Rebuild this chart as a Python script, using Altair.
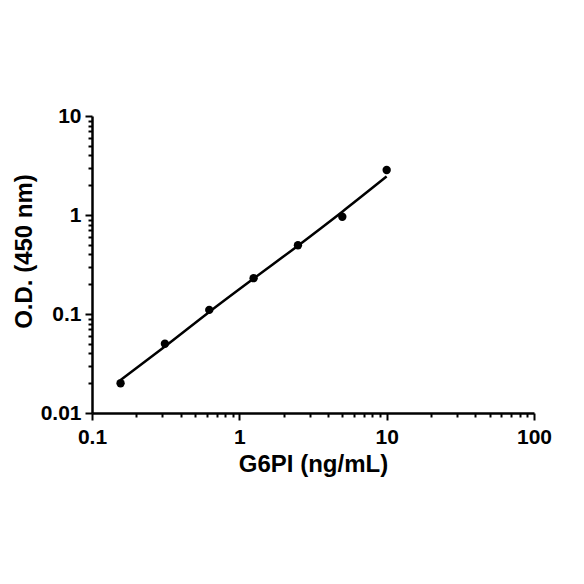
import altair as alt
import pandas as pd

# Measured standards
conc = [0.15625, 0.3125, 0.625, 1.25, 2.5, 5, 10]
od = [0.020, 0.050, 0.110, 0.230, 0.495, 0.96, 2.85]

# Fitted curve
fit_x = [0.156, 0.3125, 0.625, 1.25, 2.5, 5, 10]
fit_y = [0.0215, 0.047, 0.105, 0.228, 0.49, 1.08, 2.45]

x_ticks = [0.1, 0.2, 0.3, 0.4, 0.5, 0.6, 0.7, 0.8, 0.9,
           1, 2, 3, 4, 5, 6, 7, 8, 9,
           10, 20, 30, 40, 50, 60, 70, 80, 90, 100]
y_ticks = [0.01, 0.02, 0.03, 0.04, 0.05, 0.06, 0.07, 0.08, 0.09,
           0.1, 0.2, 0.3, 0.4, 0.5, 0.6, 0.7, 0.8, 0.9,
           1, 2, 3, 4, 5, 6, 7, 8, 9, 10]

pts = pd.DataFrame({"x": conc, "y": od})
fit = pd.DataFrame({"x": fit_x, "y": fit_y})

is_decade = "abs(log(datum.value)/LN10 - round(log(datum.value)/LN10)) < 1e-6"
FONT = "Liberation Sans"

x_scale = alt.Scale(type="log", domain=[0.1, 100], nice=False)
y_scale = alt.Scale(type="log", domain=[0.01, 10], nice=False)

x_axis = alt.Axis(
    values=x_ticks, format="~g", grid=False,
    labelExpr=f"({is_decade}) ? datum.label : ''",
    tickSize={"condition": {"test": is_decade, "value": 7}, "value": 4},
    tickWidth=2, tickColor="black", domainColor="black", domainWidth=2.5,
    labelFont=FONT, labelFontSize=21, labelFontWeight="bold", labelColor="black",
    labelPadding=6, labelOverlap=False, labelFlush=False,
    title="G6PI (ng/mL)", titleFont=FONT, titleFontSize=24, titleFontWeight="bold",
    titleColor="black", titlePadding=5,
)
y_axis = alt.Axis(
    values=y_ticks, format="~g", grid=False,
    labelExpr=f"({is_decade}) ? datum.label : ''",
    tickSize={"condition": {"test": is_decade, "value": 7}, "value": 4},
    tickWidth=2, tickColor="black", domainColor="black", domainWidth=2.5,
    labelFont=FONT, labelFontSize=21, labelFontWeight="bold", labelColor="black",
    labelPadding=4, labelOverlap=False, labelFlush=False,
    title="O.D. (450 nm)", titleFont=FONT, titleFontSize=24, titleFontWeight="bold",
    titleColor="black", titlePadding=4, titleY=135,
)

line = alt.Chart(fit).mark_line(color="black", strokeWidth=2.5, interpolate="monotone").encode(
    x=alt.X("x:Q", scale=x_scale, axis=x_axis),
    y=alt.Y("y:Q", scale=y_scale, axis=y_axis),
)
points = alt.Chart(pts).mark_circle(color="black", size=70, opacity=1).encode(
    x=alt.X("x:Q", scale=x_scale),
    y=alt.Y("y:Q", scale=y_scale),
)

chart = alt.layer(line, points).properties(
    width=442, height=297,
    autosize=alt.AutoSizeParams(type="none"),
    padding={"left": 84, "top": 108, "right": 34, "bottom": 163},
).configure(background="white", view=alt.ViewConfig(stroke=None))

chart.save("out.html", embed_options={"renderer": "svg", "actions": False})
